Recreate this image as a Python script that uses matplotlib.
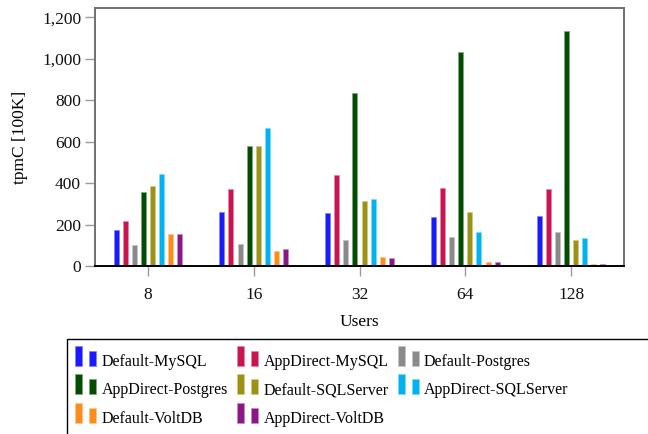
import numpy as np
import matplotlib
matplotlib.use("Agg")
import matplotlib.pyplot as plt
from matplotlib.patches import Rectangle, Patch
from matplotlib.legend_handler import HandlerBase
from matplotlib.ticker import FuncFormatter

plt.rcParams["font.family"] = ["Liberation Serif", "DejaVu Serif"]

users = ["8", "16", "32", "64", "128"]
series_names = [
    "Default-MySQL", "AppDirect-MySQL", "Default-Postgres", "AppDirect-Postgres",
    "Default-SQLServer", "AppDirect-SQLServer", "Default-VoltDB", "AppDirect-VoltDB",
]
default_mysql = [175, 262, 257, 236, 239]
appdirect_mysql = [218, 373, 440, 376, 373]
default_postgres = [101, 106, 125, 141, 165]
appdirect_postgres = [358, 581, 834, 1031, 1134]
default_sqlserver = [387, 581, 312, 262, 127]
appdirect_sqlserver = [445, 667, 324, 165, 133]
default_voltdb = [156, 74, 42, 21, 11]
appdirect_voltdb = [156, 80, 40, 21, 11]
series_values = [
    default_mysql, appdirect_mysql, default_postgres, appdirect_postgres,
    default_sqlserver, appdirect_sqlserver, default_voltdb, appdirect_voltdb,
]
colors = ["#1a1aff", "#c8154f", "#8a8a8a", "#024d02",
          "#9c9216", "#00b2ef", "#ff8b1a", "#8b1889"]
edge_colors = ["#8080ff", "#e48aa7", "#c4c4c4", "#80a680",
               "#cec88a", "#80d8f7", "#ffc58c", "#c58bc4"]

W, H = 648, 434
fig = plt.figure(figsize=(W / 100, H / 100), dpi=100)
ax = fig.add_axes([95 / W, 1 - 266 / H, (624 - 95) / W, (266 - 8) / H])

x = np.arange(len(users))
step = 0.086
bw = 0.048
for i, (vals, c, ec) in enumerate(zip(series_values, colors, edge_colors)):
    ax.bar(x + (i - 3.5) * step, vals, width=bw, color=c, edgecolor=ec,
           linewidth=0.5, zorder=2)

ax.set_xlim(-0.5, 4.5)
ax.set_ylim(0, 1245)
ax.set_xticks(x)
ax.set_xticklabels(users)
ax.set_yticks(np.arange(0, 1201, 200))
ax.yaxis.set_major_formatter(FuncFormatter(lambda v, p: f"{int(v):,}"))

for side in ["left", "top", "right"]:
    ax.spines[side].set_color("#707070")
    ax.spines[side].set_linewidth(1.4)
ax.spines["bottom"].set_color("black")
ax.spines["bottom"].set_linewidth(1.4)
ax.spines["bottom"].set_zorder(3)

ax.tick_params(axis="both", colors="#9a9a9a", length=7, width=1.0,
               labelsize=12.5, labelcolor="#111111")
ax.tick_params(axis="y", pad=3)
ax.tick_params(axis="x", pad=8)

ax.set_ylabel("tpmC [100K]", fontsize=12.5, labelpad=10)
ax.set_xlabel("Users", fontsize=12.5, labelpad=8)


class TwoBlockHandler(HandlerBase):
    def create_artists(self, legend, orig_handle, xdescent, ydescent,
                       width, height, fontsize, trans):
        c = orig_handle.get_facecolor()
        ec = orig_handle.get_edgecolor()
        px = 0.72
        r1 = Rectangle((-xdescent, -ydescent), 7 * px, 20 * px,
                       facecolor=c, edgecolor=ec, linewidth=0.5, transform=trans)
        r2 = Rectangle((-xdescent + 14 * px, -ydescent), 7 * px, 15 * px,
                       facecolor=c, edgecolor=ec, linewidth=0.5, transform=trans)
        return [r1, r2]


legend_fs = 11.5
fs_px = legend_fs * 100 / 72
handles = [Patch(facecolor=c, edgecolor=ec) for c, ec in zip(colors, edge_colors)]
order = [0, 3, 6, 1, 4, 7, 2, 5]
fig.legend([handles[i] for i in order], [series_names[i] for i in order],
           loc="upper left", bbox_to_anchor=(75 / W, 1 - 354 / H),
           bbox_transform=fig.transFigure, ncol=3, frameon=False,
           borderpad=0, borderaxespad=0, fontsize=legend_fs,
           handlelength=21 / fs_px, handletextpad=5.5 / fs_px,
           columnspacing=9 / fs_px, labelspacing=0.78,
           handler_map={Patch: TwoBlockHandler()})

fig.add_artist(Rectangle((67 / W, -0.1), 1.0, 0.1 + (1 - 339 / H),
                         transform=fig.transFigure, fill=False,
                         edgecolor="black", linewidth=1.0))

fig.savefig("out.png", dpi=100)
